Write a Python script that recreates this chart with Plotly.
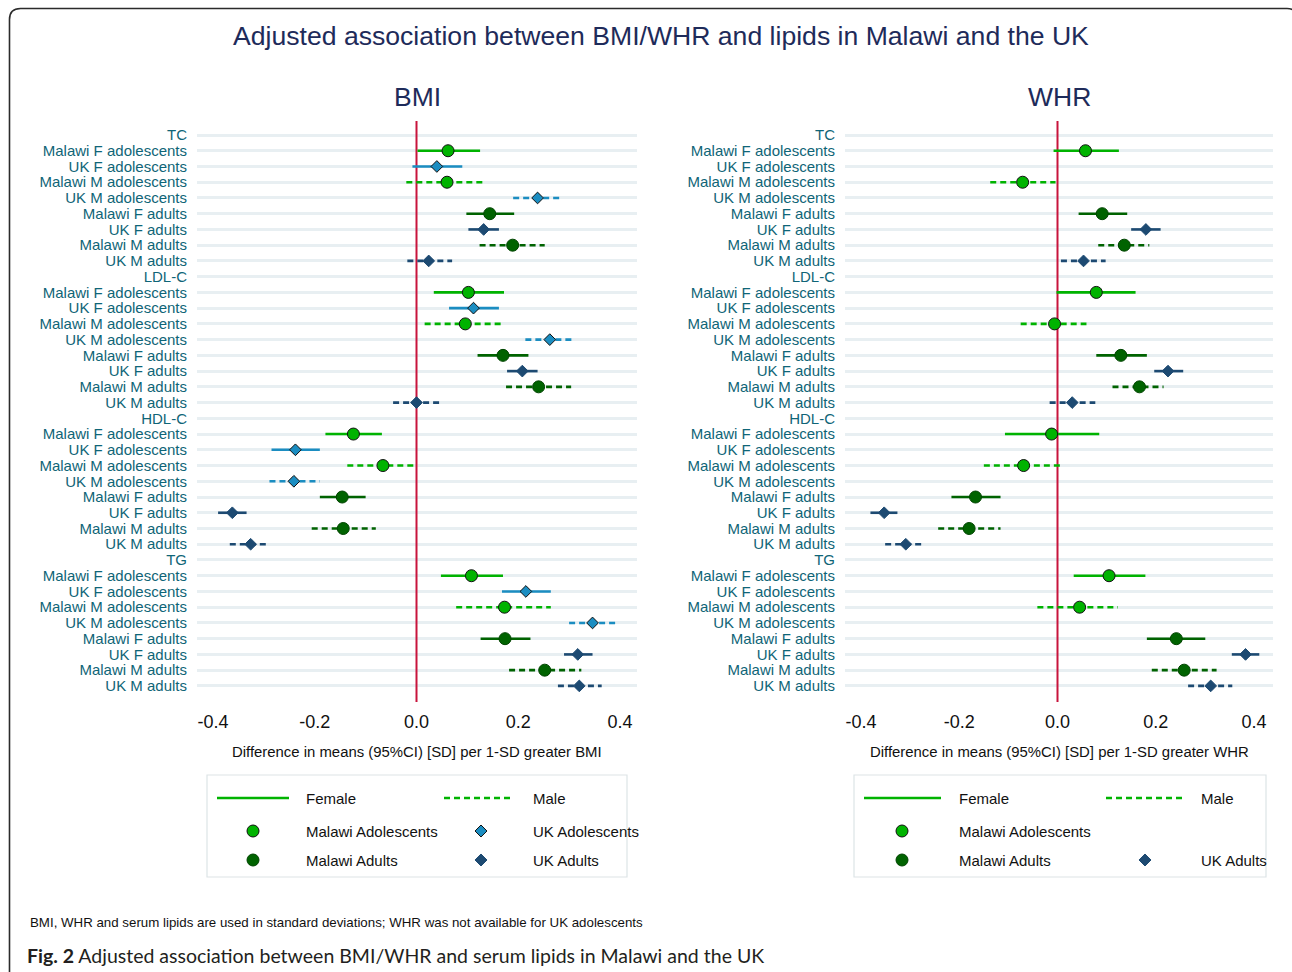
import plotly.graph_objects as go

# ---------------- data ----------------
lipids = ["TC", "LDL-C", "HDL-C", "TG"]
groups = ["Malawi F adolescents", "UK F adolescents", "Malawi M adolescents", "UK M adolescents",
          "Malawi F adults", "UK F adults", "Malawi M adults", "UK M adults"]

# BMI panel: rows = lipids, columns = groups
bmi_est = [[0.062, 0.040, 0.060, 0.238, 0.144, 0.132, 0.189, 0.024],
           [0.102, 0.112, 0.096, 0.262, 0.170, 0.208, 0.240, 0.000],
           [-0.124, -0.238, -0.066, -0.241, -0.146, -0.362, -0.144, -0.326],
           [0.108, 0.215, 0.173, 0.346, 0.174, 0.317, 0.252, 0.320]]
bmi_lo = [[0.002, -0.008, -0.020, 0.190, 0.098, 0.102, 0.124, -0.018],
          [0.034, 0.064, 0.016, 0.214, 0.120, 0.178, 0.176, -0.046],
          [-0.179, -0.285, -0.136, -0.289, -0.190, -0.390, -0.206, -0.367],
          [0.048, 0.168, 0.078, 0.300, 0.126, 0.290, 0.182, 0.278]]
bmi_hi = [[0.125, 0.090, 0.136, 0.288, 0.192, 0.162, 0.252, 0.070],
          [0.172, 0.162, 0.173, 0.312, 0.220, 0.238, 0.304, 0.045],
          [-0.068, -0.190, -0.006, -0.190, -0.100, -0.334, -0.080, -0.295],
          [0.170, 0.264, 0.264, 0.394, 0.224, 0.346, 0.324, 0.364]]

# WHR panel (not available for UK adolescents)
whr_est = [[0.057, None, -0.071, None, 0.091, 0.180, 0.136, 0.053],
           [0.079, None, -0.006, None, 0.129, 0.225, 0.167, 0.030],
           [-0.012, None, -0.069, None, -0.167, -0.353, -0.180, -0.309],
           [0.105, None, 0.045, None, 0.242, 0.383, 0.258, 0.312]]
whr_lo = [[-0.008, None, -0.137, None, 0.043, 0.150, 0.083, 0.007],
          [-0.002, None, -0.075, None, 0.079, 0.197, 0.112, -0.016],
          [-0.107, None, -0.150, None, -0.216, -0.381, -0.243, -0.351],
          [0.033, None, -0.041, None, 0.182, 0.355, 0.192, 0.266]]
whr_hi = [[0.125, None, -0.004, None, 0.142, 0.210, 0.187, 0.098],
          [0.159, None, 0.059, None, 0.182, 0.256, 0.216, 0.077],
          [0.085, None, 0.011, None, -0.116, -0.326, -0.116, -0.276],
          [0.179, None, 0.123, None, 0.301, 0.411, 0.324, 0.356]]

x_ticks = [-0.4, -0.2, 0.0, 0.2, 0.4]
x_ticktext = ["-0.4", "-0.2", "0.0", "0.2", "0.4"]

# ---------------- styling ----------------
FONT = "Liberation Sans, Arial, sans-serif"
GREEN = "#00b300"
DKGREEN = "#006300"
BLUE = "#1b8dc1"
NAVY = "#1d4a72"
TEAL = "#0f6577"
TITLE_C = "#1e2b5a"
RED = "#c8143c"
GRID = "#e8eff2"

cohort_style = {
    "Malawi adolescents": dict(color=GREEN, symbol="circle", size=12, outline="#111111"),
    "UK adolescents": dict(color=BLUE, symbol="diamond", size=9, outline="#111111"),
    "Malawi adults": dict(color=DKGREEN, symbol="circle", size=12, outline="#004400"),
    "UK adults": dict(color=NAVY, symbol="diamond", size=9, outline=NAVY),
}


def cohort_of(name):
    c = "Malawi" if name.startswith("Malawi") else "UK"
    a = "adolescents" if name.endswith("adolescents") else "adults"
    return c + " " + a


def is_male(name):
    return " M " in name


# page geometry (body margin removed in post_script)
W, H = 1292, 972
OX, OY = 0, 0


def fx(p):
    return (p - OX) / W


def fy(p):
    return 1 - (p - OY) / H


n_rows = len(lipids) * (len(groups) + 1)
tickvals = list(range(n_rows))
ticktext = []
for lp in lipids:
    ticktext.append(lp)
    ticktext.extend(groups)

y_top, y_bot = 121, 702
row0, row_h = 135, 15.74
y_range = [(y_bot - row0) / row_h, (y_top - row0) / row_h]

fig = go.Figure()

panels = [
    ("x", "y", bmi_est, bmi_lo, bmi_hi),
    ("x2", "y2", whr_est, whr_lo, whr_hi),
]

for xa, ya, est, lo, hi in panels:
    # reference line at zero (below the estimates)
    fig.add_trace(go.Scatter(
        x=[0, 0], y=y_range, mode="lines", xaxis=xa, yaxis=ya, showlegend=False,
        hoverinfo="skip", cliponaxis=False, line=dict(color=RED, width=2),
    ))
    for j, g in enumerate(groups):
        st = cohort_style[cohort_of(g)]
        lx, ly, mx, my = [], [], [], []
        for k in range(len(lipids)):
            row = k * (len(groups) + 1) + 1 + j
            if est[k][j] is None:
                continue
            lx += [lo[k][j], hi[k][j], None]
            ly += [row, row, None]
            mx.append(est[k][j])
            my.append(row)
        if not mx:
            continue
        fig.add_trace(go.Scatter(
            x=lx, y=ly, mode="lines", xaxis=xa, yaxis=ya, showlegend=False,
            hoverinfo="skip",
            line=dict(color=st["color"], width=2.6, dash="6px,4px" if is_male(g) else "solid"),
        ))
        fig.add_trace(go.Scatter(
            x=mx, y=my, mode="markers", xaxis=xa, yaxis=ya, showlegend=False, name=g,
            marker=dict(symbol=st["symbol"], size=st["size"], color=st["color"],
                        line=dict(color=st["outline"], width=1)),
        ))

bmi_px = (197, 637, 416.5, 508.75)
whr_px = (845, 1273, 1057.5, 491.0)


def xaxis_cfg(px):
    l, r, z, s = px
    return dict(
        domain=[fx(l), fx(r)], range=[(l - z) / s, (r - z) / s],
        tickvals=x_ticks, ticktext=x_ticktext, showgrid=False, zeroline=False,
        showline=False, ticks="", ticklabelstandoff=7,
        tickfont=dict(family=FONT, size=18, color="#111111"),
    )


def yaxis_cfg(anchor):
    return dict(
        domain=[fy(y_bot), fy(y_top)], range=y_range, anchor=anchor,
        tickvals=tickvals, ticktext=ticktext, showgrid=True, gridcolor=GRID,
        gridwidth=3, zeroline=False, showline=False, ticks="", ticklabelstandoff=9,
        tickfont=dict(family=FONT, size=15, color=TEAL),
    )


shapes = []
annotations = []

# outer rounded frame
fl, ft, fr, fb, rad = 9.5, 8.5, 1298, 1000, 11
pts = [("M", fl, fb), ("L", fl, ft + rad), ("Q", fl, ft, fl + rad, ft), ("L", fr - rad, ft),
       ("Q", fr, ft, fr, ft + rad), ("L", fr, fb)]
path = ""
for p in pts:
    cmd = p[0]
    coords = p[1:]
    s = []
    for i in range(0, len(coords), 2):
        s.append(f"{fx(coords[i]):.5f},{fy(coords[i+1]):.5f}")
    path += cmd + " " + " ".join(s) + " "
shapes.append(dict(type="path", xref="paper", yref="paper", path=path,
                   line=dict(color="#2b2b2b", width=1.6), layer="above"))


def text(x, y, t, size, color="#111111", xanchor="center", family=FONT):
    annotations.append(dict(x=fx(x), y=fy(y), xref="paper", yref="paper", text=t,
                            showarrow=False, xanchor=xanchor, yanchor="middle",
                            font=dict(family=family, size=size, color=color)))


text(661, 36, "Adjusted association between BMI/WHR and lipids in Malawi and the UK", 26.6, TITLE_C)
text(417, 97, "BMI", 26.5, TITLE_C)
text(1059, 97, "WHR", 26.5, TITLE_C)
text(417, 752, "Difference in means (95%CI) [SD] per 1-SD greater BMI", 14.9)
text(1059, 752, "Difference in means (95%CI) [SD] per 1-SD greater WHR", 14.9)
text(28, 922, "BMI, WHR and serum lipids are used in standard deviations; WHR was not available for UK adolescents",
     13.3, xanchor="left")
text(25, 955, "<b>Fig. 2</b> Adjusted association between BMI/WHR and serum lipids in Malawi and the UK",
     19.5, "#231f20", xanchor="left", family="Lato, Noto Sans, sans-serif")


# ---------------- legends (drawn keys) ----------------
def leg_line(x0, x1, y, color, dash):
    shapes.append(dict(type="line", xref="paper", yref="paper", x0=fx(x0), x1=fx(x1),
                       y0=fy(y), y1=fy(y), line=dict(color=color, width=2.6, dash=dash)))


def leg_circle(cx, cy, r, color, outline):
    shapes.append(dict(type="circle", xref="paper", yref="paper", x0=fx(cx - r), x1=fx(cx + r),
                       y0=fy(cy + r), y1=fy(cy - r), fillcolor=color,
                       line=dict(color=outline, width=1)))


def leg_diamond(cx, cy, r, color, outline):
    p = (f"M {fx(cx - r):.5f},{fy(cy):.5f} L {fx(cx):.5f},{fy(cy - r):.5f} "
         f"L {fx(cx + r):.5f},{fy(cy):.5f} L {fx(cx):.5f},{fy(cy + r):.5f} Z")
    shapes.append(dict(type="path", xref="paper", yref="paper", path=p, fillcolor=color,
                       line=dict(color=outline, width=1)))


def leg_box(x0, x1, y0, y1):
    shapes.append(dict(type="rect", xref="paper", yref="paper", x0=fx(x0), x1=fx(x1),
                       y0=fy(y1), y1=fy(y0), line=dict(color="#dde4e6", width=1.2)))


# BMI legend
leg_box(207, 627, 775, 877)
leg_line(217, 289, 798, GREEN, "solid")
text(304, 798, "Female", 15, xanchor="left")
leg_line(444, 510, 798, GREEN, "6px,4px")
text(531, 798, "Male", 15, xanchor="left")
leg_circle(253, 831, 6, GREEN, "#111111")
text(304, 831, "Malawi Adolescents", 15, xanchor="left")
leg_diamond(481, 831, 6, BLUE, "#111111")
text(531, 831, "UK Adolescents", 15, xanchor="left")
leg_circle(253, 860, 6, DKGREEN, "#004400")
text(304, 860, "Malawi Adults", 15, xanchor="left")
leg_diamond(481, 860, 6, NAVY, NAVY)
text(531, 860, "UK Adults", 15, xanchor="left")

# WHR legend
leg_box(854, 1266, 775, 877)
leg_line(864, 941, 798, GREEN, "solid")
text(957, 798, "Female", 15, xanchor="left")
leg_line(1106, 1184, 798, GREEN, "6px,4px")
text(1199, 798, "Male", 15, xanchor="left")
leg_circle(902, 831, 6, GREEN, "#111111")
text(957, 831, "Malawi Adolescents", 15, xanchor="left")
leg_circle(902, 860, 6, DKGREEN, "#004400")
text(957, 860, "Malawi Adults", 15, xanchor="left")
leg_diamond(1145, 860, 6, NAVY, NAVY)
text(1199, 860, "UK Adults", 15, xanchor="left")

fig.update_layout(
    width=W, height=H,
    margin=dict(l=0, r=0, t=0, b=0, pad=0),
    paper_bgcolor="white", plot_bgcolor="white",
    showlegend=False,
    xaxis=dict(xaxis_cfg(bmi_px), anchor="y"), yaxis=yaxis_cfg("x"),
    xaxis2=dict(xaxis_cfg(whr_px), anchor="y2"), yaxis2=yaxis_cfg("x2"),
    shapes=shapes, annotations=annotations,
    font=dict(family=FONT),
)

fig.write_html(
    "out.html",
    config={"displayModeBar": False},
    post_script="document.body.style.margin='0';document.body.style.overflow='hidden';",
)
